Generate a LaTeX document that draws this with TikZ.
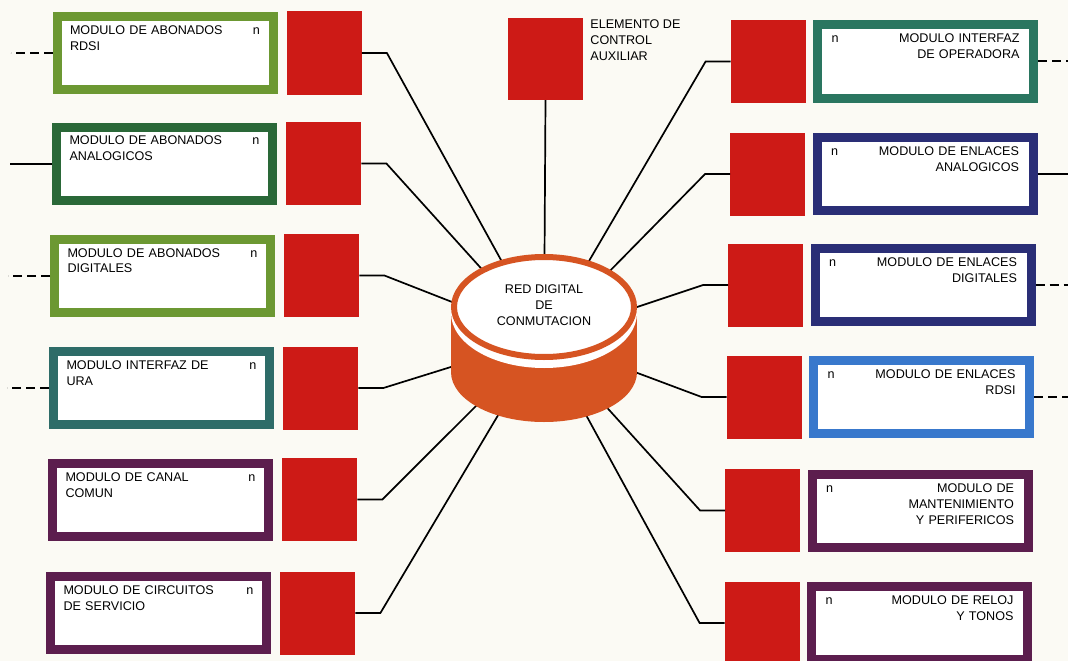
\documentclass[tikz,border=0pt]{standalone}
\usepackage{fontspec}
\setmainfont{Liberation Sans}
\usepackage{xcolor}
\usepackage{tikz}
\usetikzlibrary{positioning}

\definecolor{paper}{RGB}{251,250,244}
\definecolor{blkred}{RGB}{205,26,22}
\definecolor{cylred}{RGB}{214,84,34}
\definecolor{grnlight}{RGB}{108,152,50}
\definecolor{grndark}{RGB}{42,104,56}
\definecolor{tealura}{RGB}{46,108,104}
\definecolor{tealop}{RGB}{42,118,96}
\definecolor{navy}{RGB}{42,46,118}
\definecolor{brblue}{RGB}{56,120,204}
\definecolor{plum}{RGB}{92,30,78}

\begin{document}
\begin{tikzpicture}[
  x=1pt, y=-1pt,
  font=\fontsize{12.6}{16}\selectfont,
  module/.style={draw=#1, line width=9pt, fill=white, minimum width=216pt, minimum height=73pt, inner sep=0pt, outer sep=4.5pt},
  block/.style={fill=blkred, minimum width=75pt, minimum height=83pt, inner sep=0pt},
  ltext/.style={inner sep=0pt, text width=190pt, align=left},
  rtext/.style={inner sep=0pt, text width=188pt, align=right},
  link/.style={line width=1.7pt},
  ext/.style={line width=2pt},
  extdash/.style={ext, dash pattern=on 9pt off 5pt}
]
  \useasboundingbox (0,0) rectangle (1068,661);
  \fill[paper] (0,0) rectangle (1068,661);

  % subscriber side
  \node[module=grnlight] (abrdsi) at (165,53) {};
  \node[module=grndark] (abana) at (164.5,163.5) {};
  \node[module=grnlight] (abdig) at (162.5,275.5) {};
  \node[module=tealura] (ura) at (161.5,388) {};
  \node[module=plum] (canal) at (160.5,499.5) {};
  \node[module=plum] (circ) at (158.5,613) {};

  \node[ltext, below=13.5pt of abrdsi.north] (abrdsitxt) {MODULO DE ABONADOS\hfill n\\RDSI};
  \node[ltext, below=13.5pt of abana.north] (abanatxt) {MODULO DE ABONADOS\hfill n\\ANALOGICOS};
  \node[ltext, below=13.5pt of abdig.north] (abdigtxt) {MODULO DE ABONADOS\hfill n\\DIGITALES};
  \node[ltext, below=13.5pt of ura.north] (uratxt) {MODULO INTERFAZ DE\hfill n\\URA};
  \node[ltext, below=13.5pt of canal.north] (canaltxt) {MODULO DE CANAL\hfill n\\COMUN};
  \node[ltext, below=13.5pt of circ.north] (circtxt) {MODULO DE CIRCUITOS\hfill n\\DE SERVICIO};

  \node[block, right=9pt of abrdsi] (abrdsiblk) {};
  \node[block, right=9pt of abana] (abanablk) {};
  \node[block, right=9pt of abdig] (abdigblk) {};
  \node[block, right=9pt of ura] (urablk) {};
  \node[block, right=9pt of canal] (canalblk) {};
  \node[block, right=9pt of circ] (circblk) {};

  % trunk side
  \node[module=tealop] (oper) at (925.5,61.5) {};
  \node[module=navy] (enlana) at (925,174) {};
  \node[module=navy] (enldig) at (923,285) {};
  \node[module=brblue] (enlrdsi) at (921.5,397) {};
  \node[module=plum] (mant) at (920,510.5) {};
  \node[module=plum] (reloj) at (919.5,623) {};

  \node[rtext, below=13.5pt of oper.north] (opertxt) {n\hfill MODULO INTERFAZ\\DE OPERADORA};
  \node[rtext, below=13.5pt of enlana.north] (enlanatxt) {n\hfill MODULO DE ENLACES\\ANALOGICOS};
  \node[rtext, below=13.5pt of enldig.north] (enldigtxt) {n\hfill MODULO DE ENLACES\\DIGITALES};
  \node[rtext, below=13.5pt of enlrdsi.north] (enlrdsitxt) {n\hfill MODULO DE ENLACES\\RDSI};
  \node[rtext, below=13.5pt of mant.north] (manttxt) {n\hfill MODULO DE\\MANTENIMIENTO\\Y PERIFERICOS};
  \node[rtext, below=13.5pt of reloj.north] (relojtxt) {n\hfill MODULO DE RELOJ\\Y TONOS};

  \node[block, left=7pt of oper] (operblk) {};
  \node[block, left=7pt of enlana] (enlanablk) {};
  \node[block, left=7pt of enldig] (enldigblk) {};
  \node[block, left=7pt of enlrdsi] (enlrdsiblk) {};
  \node[block, left=7pt of mant] (mantblk) {};
  \node[block, left=7pt of reloj] (relojblk) {};

  % auxiliary control
  \node[block, minimum height=82pt] (aux) at (545.5,59) {};
  \node[inner sep=0pt, align=left, below right=2pt and 7pt of aux.north east] (auxtxt) {ELEMENTO DE\\CONTROL\\AUXILIAR};

  % outside lines
  \draw[extdash] (abrdsi.west) -- ++(-42,0);
  \draw[ext] (abana.west) -- ++(-42,0);
  \draw[extdash] (abdig.west) -- ++(-42,0);
  \draw[extdash] (ura.west) -- ++(-42,0);
  \draw[extdash] (oper.east) -- ++(40,0);
  \draw[ext] (enlana.east) -- ++(40,0);
  \draw[extdash] (enldig.east) -- ++(40,0);
  \draw[extdash] (enlrdsi.east) -- ++(40,0);

  % links to the switching network
  \coordinate (hub) at (544,338);
  \draw[link] (abrdsiblk.east) -- ++(25,0) -- (hub);
  \draw[link] (abanablk.east) -- ++(25,0) -- (hub);
  \draw[link] (abdigblk.east) -- ++(25,0) -- (hub);
  \draw[link] (urablk.east) -- ++(25,0) -- (hub);
  \draw[link] (canalblk.east) -- ++(25,0) -- (hub);
  \draw[link] (circblk.east) -- ++(25,0) -- (hub);
  \draw[link] (operblk.west) -- ++(-25,0) -- (hub);
  \draw[link] (enlanablk.west) -- ++(-25,0) -- (hub);
  \draw[link] (enldigblk.west) -- ++(-25,0) -- (hub);
  \draw[link] (enlrdsiblk.west) -- ++(-25,0) -- (hub);
  \draw[link] (mantblk.west) -- ++(-25,0) -- (hub);
  \draw[link] (relojblk.west) -- ++(-25,0) -- (hub);
  \draw[link] (aux.south) -- (hub);

  % switching network drum
  \fill[cylred] (451,313) rectangle (637,372);
  \fill[cylred] (544,372) ellipse [x radius=93pt, y radius=50pt];
  \fill[white] (544,313) ellipse [x radius=93pt, y radius=55pt];
  \draw[cylred, line width=6pt, fill=white] (544,307) ellipse [x radius=90pt, y radius=50pt];
  \node[inner sep=0pt, align=center] (rdc) at (544,305) {RED DIGITAL\\DE\\CONMUTACION};
\end{tikzpicture}
\end{document}
